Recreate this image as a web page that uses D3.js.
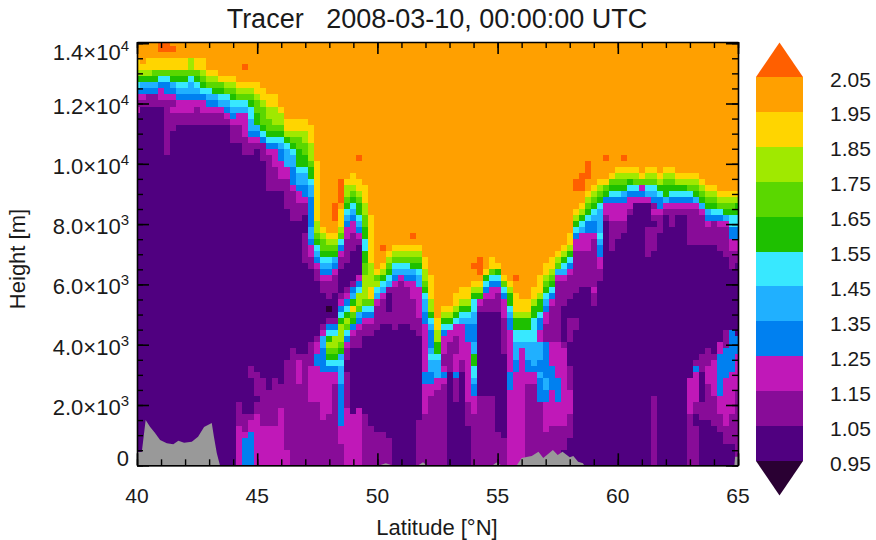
<!DOCTYPE html>
<html>
<head>
<meta charset="utf-8">
<style>
  body { margin: 0; background: #fff; }
  text { font-family: 'Liberation Sans', Arial, sans-serif; fill: #1a1a1a; }
</style>
<script src="https://cdnjs.cloudflare.com/ajax/libs/d3/7.8.5/d3.min.js"></script>
</head>
<body>
<div id='chart'></div>
<script>

// Contour levels and the colour of each band (below 0.95 ... above 2.05)
const levels = [0.95, 1.05, 1.15, 1.25, 1.35, 1.45, 1.55, 1.65, 1.75, 1.85, 1.95, 2.05];
const bandColors = ['#2a0033', '#500080', '#880c98', '#c018b8', '#0080f0', '#20b0ff',
  '#38e8ff', '#1ec000', '#5ad700', '#a0e900', '#ffd500', '#ffa000', '#ff5f00'];

// Band codes used in the columns below -> tracer value
const bandValues = {d: 0.9, 0: 1.0, 1: 1.1, 2: 1.2, 3: 1.3, 4: 1.4, 5: 1.5, 6: 1.6, 7: 1.7, 8: 1.8, 9: 1.9, o: 2.0, r: 2.1};

// Grid
const latStart = 40, latStep = 0.25;
const topHeight = 14000, heightStep = 200;

// One entry per latitude column, read top to bottom.
// Each token: band code + number of grid rows from the top where that band ends
const tracerColumns = [
  "o3 95 86 67 58 39 210 111 212 071",
  "o4 95 86 67 48 39 210 111 071",
  "o3 95 86 67 48 39 111 071",
  "o3 95 76 67 48 39 111 071",
  "r2 o3 95 76 57 38 210 111 071",
  "r2 o3 95 76 57 39 210 119 071",
  "o1 r2 o3 95 76 67 48 39 210 111 212 115 071",
  "o3 95 76 67 58 49 310 212 114 071",
  "o3 95 76 67 58 49 310 212 114 071",
  "o3 85 76 57 49 310 212 114 071",
  "o3 95 76 67 58 49 310 211 114 071",
  "o3 95 86 77 68 59 310 212 114 071",
  "o5 96 87 78 59 410 311 212 114 071",
  "o5 96 87 78 69 410 311 212 114 071",
  "o6 97 78 69 510 411 212 114 071",
  "o6 97 88 79 510 411 312 213 114 071",
  "o6 97 88 79 610 511 412 313 214 117 071",
  "o7 98 89 710 511 412 214 117 060 164 271",
  "o4 r5 o7 98 89 710 511 412 216 119 062 165 266 371",
  "o7 98 89 710 611 513 415 316 217 119 054 156 062 163 265 371",
  "o7 99 810 712 614 415 316 217 118 055 159 060 162 271",
  "o8 910 811 714 615 516 317 120 056 164 271",
  "o9 911 813 715 616 517 318 219 125 058 164 271",
  "o9 911 814 715 616 517 318 221 125 056 164 271",
  "o11 912 814 715 616 517 418 320 223 125 057 161 271",
  "o13 915 816 617 518 421 223 128 053 168 271",
  "o13 915 816 717 618 519 421 324 225 130 051 171",
  "o13 915 816 718 621 522 424 325 227 130 052 153 257 171",
  "o13 915 817 719 621 522 424 326 227 129 032 137 052 171",
  "o14 917 820 721 623 524 426 327 331 433 334 236 138 050 154 260 171",
  "o20 930 832 733 634 535 436 337 238 140 049 150 252 354 260 171",
  "o31 932 833 735 636 537 438 339 240 142 047 148 249 451 355 263 171",
  "o32 933 834 735 636 537 438 339 240 143 044 d45 046 147 348 549 650 851 752 653 554 355 262 171",
  "o27 r30 o32 933 834 735 636 437 338 239 142 046 147 348 549 851 752 653 554 355 257 171",
  "o23 r27 o28 931 832 733 534 335 236 138 042 143 244 345 546 647 850 751 652 453 554 457 364 267 171",
  "o23 924 826 727 628 529 430 331 233 137 041 142 243 344 545 646 847 748 549 350 251 153 055 161 271",
  "o22 924 825 726 627 528 429 330 232 135 040 141 342 443 644 945 746 647 348 249 151 062 271",
  "o19 r20 o23 925 826 727 629 530 431 332 233 134 039 240 341 542 844 745 446 347 248 151 061 271",
  "o24 927 829 731 633 535 637 739 843 744 545 346 247 149 062 171",
  "o29 937 841 943 744 545 346 247 149 064 171",
  "o38 939 740 841 542 443 244 148 065 171",
  "o34 r35 o37 938 839 640 541 442 243 147 065 171",
  "o35 936 837 738 639 540 441 142 045 147 066 171",
  "o34 935 836 737 538 439 340 241 148 071",
  "o34 935 836 737 538 439 240 147 071",
  "o34 935 836 737 538 439 340 241 147 071",
  "o32 r33 o34 935 836 737 638 439 340 243 148 071",
  "o34 935 836 737 638 539 441 246 149 063 171",
  "o36 938 840 741 642 543 445 347 255 357 262 171",
  "o39 943 845 646 547 448 351 452 553 455 357 259 171",
  "o46 948 850 652 553 456 258 171",
  "o44 945 846 647 548 349 252 154 255 356 257 171",
  "o44 945 846 647 548 250 155 071",
  "o42 944 845 646 547 249 152 255 356 160 071",
  "o41 943 844 645 546 447 253 155 071",
  "o41 943 844 645 546 447 350 260 164 071",
  "o37 r38 o40 941 842 643 545 447 350 452 654 556 457 359 262 171",
  "o36 r39 o40 941 842 643 244 145 059 171",
  "o38 939 640 541 342 243 145 059 171",
  "o36 938 739 540 341 243 145 059 171",
  "o37 938 639 540 341 242 145 065 171",
  "o39 940 741 542 343 246 152 066 171",
  "o40 941 842 644 545 446 348 255 358 271",
  "o39 r40 o42 945 846 648 550 453 355 271",
  "o43 945 846 648 550 451 271",
  "o43 945 846 648 550 453 355 257 171",
  "o41 943 844 646 550 454 355 257 171",
  "o39 942 843 645 546 348 250 453 355 456 360 171",
  "o37 939 840 741 642 543 444 345 247 150 356 458 360 265 171",
  "o36 938 839 740 641 542 343 244 150 254 358 264 171",
  "o35 936 837 738 439 240 150 256 360 264 171",
  "o34 935 836 637 538 439 240 144 050 151 264 168 071",
  "o32 934 835 636 537 338 239 143 046 150 054 158 262 166 071",
  "o23 r25 o28 929 830 631 532 333 235 142 046 148 071",
  "o22 r25 o27 928 829 630 531 432 235 141 071",
  "o20 r23 o25 926 827 728 629 530 332 235 141 071",
  "o24 925 826 727 628 529 430 332 233 141 242 144 071",
  "o23 924 825 726 627 528 432 533 434 336 238 140 071",
  "o19 r20 o23 924 725 626 327 229 130 071",
  "o22 923 724 625 526 327 230 135 071",
  "o21 922 823 724 625 526 327 230 133 071",
  "o19 r20 o21 922 823 724 625 426 327 230 132 071",
  "o21 922 823 624 525 326 228 129 071",
  "o21 922 823 724 525 326 227 071",
  "o22 923 724 225 326 227 071",
  "o21 922 823 724 525 426 227 031 136 071",
  "o21 922 823 724 525 426 327 128 229 130 031 135 059 171",
  "o22 923 824 625 526 328 229 132 071",
  "o21 922 823 724 626 427 228 129 071",
  "o21 922 823 724 625 526 327 228 131 071",
  "o22 923 824 625 526 327 228 129 071",
  "o22 923 824 625 526 327 228 129 071",
  "o22 923 824 725 526 327 228 134 056 262 171",
  "o22 923 824 725 626 427 228 134 053 154 355 260 162 064 171",
  "o23 924 825 726 627 428 229 134 052 155 060 163 071",
  "o24 925 826 727 628 429 330 231 134 051 154 257 163 071",
  "o24 925 826 727 628 529 330 134 052 153 259 164 071",
  "o25 926 827 728 529 330 231 135 050 252 359 262 165 071",
  "o25 926 827 728 629 430 231 136 048 151 356 264 167 071",
  "o25 926 827 728 629 531 333 235 138 048 355 262 167 071",
  "o25 926 827 629 531 333 235 137 049 352 258 171"
];

// Terrain (grey) profile
const terrainLat = [40, 40.2, 40.36, 40.54, 40.75, 40.96, 41.24, 41.51, 41.72, 41.96, 42.28, 42.54, 42.79, 43.11, 43.2, 43.32, 43.45,
  50.1, 50.35, 50.6, 51.7, 51.9, 52.05, 54.8, 54.95, 55.15, 55.8, 56.0, 56.42, 56.7, 56.9, 57.3, 57.5, 57.7, 58.0, 58.15, 58.35, 58.55, 58.6,
  64.85, 64.88, 65];
const terrainHeight = [440, 440, 1500, 1280, 1070, 840, 730, 700, 815, 750, 785, 950, 1270, 1400, 950, 400, 0,
  0, 70, 0, 0, 100, 0, 0, 90, 0, 0, 240, 310, 450, 240, 510, 340, 450, 270, 310, 120, 70, 0,
  0, 285, 285];

// Ticks and labels
const xLabels = [40, 45, 50, 55, 60, 65];
const xMinorTicks = d3.range(40, 66);
const yLabels = [0, 2000, 4000, 6000, 8000, 10000, 12000, 14000];
const yMinorTicks = d3.range(0, 14001, 500);
const title = 'Tracer   2008-03-10, 00:00:00 UTC';
const xTitle = 'Latitude [\u00b0N]';
const yTitle = 'Height [m]';

// Page layout
const width = 876, height = 540;
const plot = {left: 137, right: 738, top: 42, bottom: 465.3};
const bar = {left: 756, right: 803, top: 77, bottom: 461, tip: 34.5};

const svg = d3.select('#chart').append('svg')
  .attr('width', width)
  .attr('height', height)
  .style('display', 'block');

// Scales
const x = d3.scaleLinear().domain([40, 65]).range([plot.left, plot.right]);
const y = d3.scaleLinear().domain([0, 14040]).range([plot.bottom, plot.top]);
const color = d3.scaleThreshold().domain(levels).range(bandColors);

// Unpack the column runs into grid cells
const cells = [];
tracerColumns.forEach((col, i) => {
  let row = 0;
  col.split(' ').forEach(token => {
    const value = bandValues[token[0]];
    const end = +token.slice(1);
    for (; row < end; row++) {
      cells.push({lat: latStart + i * latStep, h: topHeight - row * heightStep, value: value});
    }
  });
});

svg.append('clipPath').attr('id', 'plot-clip')
  .append('rect')
  .attr('x', plot.left)
  .attr('y', plot.top)
  .attr('width', plot.right - plot.left)
  .attr('height', plot.bottom - plot.top);

const field = svg.append('g').attr('clip-path', 'url(#plot-clip)');

field.selectAll('rect')
  .data(cells)
  .enter()
  .append('rect')
  .attr('x', d => x(d.lat - latStep / 2))
  .attr('y', d => y(d.h + heightStep / 2))
  .attr('width', x(latStep) - x(0) + 0.5)
  .attr('height', y(0) - y(heightStep) + 0.5)
  .attr('fill', d => color(d.value))
  .attr('shape-rendering', 'crispEdges');

// Terrain
const terrain = d3.area()
  .x((d, i) => x(terrainLat[i]))
  .y0(plot.bottom)
  .y1((d, i) => y(d));

field.append('path')
  .attr('d', terrain(terrainHeight))
  .attr('fill', '#999999');

// Axes, ticks point into the plot
const noLabel = () => '';
const addAxis = (axis, translate, major, minor) => {
  svg.append('g')
    .attr('transform', translate)
    .call(axis.tickValues(minor).tickSize(-6).tickSizeOuter(0).tickFormat(noLabel))
    .call(g => g.selectAll('line').attr('stroke-width', 1.4));
  svg.append('g')
    .attr('transform', translate)
    .call(axis.tickValues(major).tickSize(-12).tickSizeOuter(0).tickFormat(noLabel))
    .call(g => g.selectAll('line').attr('stroke-width', 1.6))
    .call(g => g.select('.domain').attr('stroke-width', 1.6));
};

addAxis(d3.axisBottom(x), `translate(0,${plot.bottom})`, xLabels, xMinorTicks);
addAxis(d3.axisTop(x), `translate(0,${plot.top})`, xLabels, xMinorTicks);
addAxis(d3.axisLeft(y), `translate(${plot.left},0)`, yLabels, yMinorTicks);
addAxis(d3.axisRight(y), `translate(${plot.right},0)`, yLabels, yMinorTicks);

// X labels
svg.append('g').selectAll('text')
  .data(xLabels)
  .enter()
  .append('text')
  .attr('x', d => x(d))
  .attr('y', 503)
  .attr('text-anchor', 'middle')
  .attr('font-size', 21)
  .text(d => d);

// Y labels: first and last are pushed in so they stay level with the plot frame
const yLabelY = d => {
  if (d === 0) return 466;
  if (d === 14000) return 60;
  return y(d) + 10;
};

const yText = svg.append('g').selectAll('text')
  .data(yLabels)
  .enter()
  .append('text')
  .attr('x', 129)
  .attr('y', yLabelY)
  .attr('text-anchor', 'end')
  .attr('font-size', 22);

yText.filter(d => d === 0).text('0');
yText.filter(d => d > 0).each(function(d) {
  const exp = Math.floor(Math.log10(d));
  const t = d3.select(this);
  t.append('tspan').text((d / Math.pow(10, exp)).toFixed(1) + '\u00d710');
  t.append('tspan').attr('font-size', 15).attr('dy', -9).text(exp);
});

// Titles
svg.append('text')
  .attr('x', 437)
  .attr('y', 28)
  .attr('text-anchor', 'middle')
  .attr('font-size', 27)
  .style('white-space', 'pre')
  .text(title);

svg.append('text')
  .attr('x', 437)
  .attr('y', 535)
  .attr('text-anchor', 'middle')
  .attr('font-size', 22)
  .text(xTitle);

svg.append('text')
  .attr('transform', 'translate(25,259) rotate(-90)')
  .attr('text-anchor', 'middle')
  .attr('font-size', 22)
  .text(yTitle);

// Colour bar
const barScale = d3.scaleLinear().domain([0.95, 2.05]).range([bar.bottom, bar.top]);
const barBands = d3.pairs(levels);

svg.append('g').selectAll('rect')
  .data(barBands)
  .enter()
  .append('rect')
  .attr('x', bar.left)
  .attr('width', bar.right - bar.left)
  .attr('y', d => barScale(d[1]))
  .attr('height', d => barScale(d[0]) - barScale(d[1]))
  .attr('fill', d => color((d[0] + d[1]) / 2))
  .attr('shape-rendering', 'crispEdges');

const barMid = (bar.left + bar.right) / 2;
svg.append('path')
  .attr('d', d3.line()([[bar.left, bar.top], [barMid, bar.top - bar.tip], [bar.right, bar.top]]))
  .attr('fill', color(2.1));
svg.append('path')
  .attr('d', d3.line()([[bar.left, bar.bottom], [barMid, bar.bottom + bar.tip], [bar.right, bar.bottom]]))
  .attr('fill', color(0.9));

svg.append('g').selectAll('text')
  .data(levels)
  .enter()
  .append('text')
  .attr('x', 830)
  .attr('y', d => barScale(d) + 9.5)
  .attr('font-size', 21)
  .attr('fill', '#333')
  .text(d => d.toFixed(2));

</script>
</body>
</html>
